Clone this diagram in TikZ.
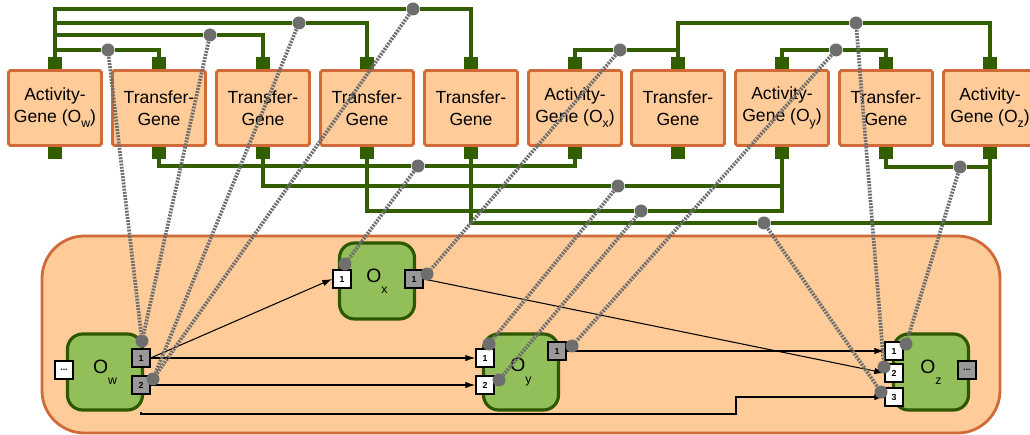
\documentclass[tikz,border=0pt]{standalone}
\usepackage{fontspec}
\setmainfont{Liberation Sans}
\usetikzlibrary{arrows.meta}
\definecolor{genefill}{RGB}{255,204,153}
\definecolor{geneline}{RGB}{208,106,56}
\definecolor{wiregreen}{RGB}{51,94,0}
\definecolor{opfill}{RGB}{147,191,90}
\definecolor{opline}{RGB}{45,88,0}
\definecolor{linkgray}{RGB}{110,110,110}
\definecolor{portgray}{RGB}{153,153,153}
\newcommand{\lowsub}[1]{\raisebox{-0.6ex}{\fontsize{7}{7}\selectfont #1}}
\newcommand{\opname}[1]{\fontsize{11}{11}\selectfont O\raisebox{-1.1ex}{\fontsize{7}{7}\selectfont #1}}
\begin{document}
\begin{tikzpicture}[x=0.02cm, y=-0.02cm,
	gene/.style={draw=geneline, fill=genefill, line width=1.6pt, rounded corners=1pt, minimum width=1.86cm, minimum height=1.5cm, align=center, inner sep=0pt, font=\fontsize{10}{12.3}\selectfont},
	pin/.style={fill=wiregreen, minimum width=0.28cm, minimum height=0.24cm, inner sep=0pt},
	wire/.style={draw=wiregreen, line width=1.9pt},
	cell/.style={draw=geneline, fill=genefill, line width=1.6pt, rounded corners=0.85cm},
	op/.style={draw=opline, fill=opfill, line width=1.8pt, rounded corners=0.3cm, minimum width=1.5cm, minimum height=1.52cm, inner sep=0pt},
	port/.style={draw=black, fill=white, line width=0.8pt, minimum size=0.36cm, inner sep=0pt, font=\fontsize{5}{5}\selectfont\bfseries},
	outport/.style={port, fill=portgray},
	sig/.style={-{Latex[length=0.2cm,width=0.13cm]}, line width=0.6pt},
	link/.style={draw=linkgray, line width=2.1pt, dash pattern=on 1.1pt off 0.7pt},
	dot/.style={circle, fill=linkgray, minimum size=0.26cm, inner sep=0pt}]
	
	\useasboundingbox (0,0) rectangle (1030,435);
	
	% genes of the row
	\node[gene] (g1) at (55,108) {Activity-\\Gene (O\lowsub{w})};
	\node[gene] (g2) at (159,108) {Transfer-\\Gene};
	\node[gene] (g3) at (263,108) {Transfer-\\Gene};
	\node[gene] (g4) at (367,108) {Transfer-\\Gene};
	\node[gene] (g5) at (471,108) {Transfer-\\Gene};
	\node[gene] (g6) at (575,108) {Activity-\\Gene (O\lowsub{x})};
	\node[gene] (g7) at (678,108) {Transfer-\\Gene};
	\node[gene] (g8) at (782,108) {Activity-\\Gene (O\lowsub{y})};
	\node[gene] (g9) at (886,108) {Transfer-\\Gene};
	\node[gene] (g10) at (990,108) {Activity-\\Gene (O\lowsub{z})};
	\foreach \i in {1,...,10} {
		\node[pin, anchor=south] (t\i) at (g\i.north) {};
		\node[pin, anchor=north] (b\i) at (g\i.south) {};
	}
	
	% hooks on the wires
	\node[dot] (hA) at (413,9) {};
	\node[dot] (hB) at (299,23) {};
	\node[dot] (hC) at (210,35) {};
	\node[dot] (hD) at (108,50) {};
	\node[dot] (hE) at (620,50) {};
	\node[dot] (hF) at (856,23) {};
	\node[dot] (hG) at (836,50) {};
	\node[dot] (hH) at (418,166) {};
	\node[dot] (hI) at (618,186) {};
	\node[dot] (hJ) at (641,211) {};
	\node[dot] (hK) at (764,223) {};
	\node[dot] (hL) at (960,167) {};
	
	\draw[wire] (t1.center) |- (hA) -| (t5.center);
	\draw[wire] (t1.center) |- (hB) -| (t4.center);
	\draw[wire] (t1.center) |- (hC) -| (t3.center);
	\draw[wire] (t1.center) |- (hD) -| (t2.center);
	\draw[wire] (t6.center) |- (hE) -| (t7.center);
	\draw[wire] (t7.center) |- (hF) -| (t10.center);
	\draw[wire] (t8.center) |- (hG) -| (t9.center);
	\draw[wire] (b2.center) |- (hH) -| (b6.center);
	\draw[wire] (b3.center) |- (hI) -| (b8.center);
	\draw[wire] (b4.center) |- (hJ) -| (b8.center);
	\draw[wire] (b5.center) |- (hK) -| (b10.center);
	\draw[wire] (b9.center) |- (hL) -| (b10.center);
	
	% the organism
	\draw[cell] (42,236) rectangle (1000,433);
	\node[op] (ow) at (105,372) {\opname{w}};
	\node[op] (ox) at (377,281) {\opname{x}};
	\node[op] (oy) at (521,372) {\opname{y}};
	\node[op] (oz) at (931,372) {\opname{z}};
	
	\node[port] (pwd) at (64,370) {...};
	\node[outport] (pw1) at (141,358) {1};
	\node[outport] (pw2) at (141,385) {2};
	\node[port] (px1) at (342,279) {1};
	\node[outport] (pxo) at (414,279) {1};
	\node[port] (py1) at (485,358) {1};
	\node[port] (py2) at (485,385) {2};
	\node[outport] (pyo) at (557,351) {1};
	\node[port] (pz1) at (894,351) {1};
	\node[port] (pz2) at (894,373) {2};
	\node[port] (pz3) at (894,397) {3};
	\node[outport] (pzd) at (967,370) {...};
	
	\coordinate (bend) at (736,414);
	\draw[sig] (pw1.east) -- (px1.west);
	\draw[sig] (pw1.east) -- (py1.west);
	\draw[sig] (pw2.east) -- (py2.west);
	\draw[sig] (pxo.east) -- (pz2.west);
	\draw[sig] (pyo.east) -- (pz1.west);
	\draw[sig] (ow.south -| pw1) |- (bend) |- (pz3.west);
	
	% hooks on the ports
	\node[dot] (qw1) at (142,341) {};
	\node[dot] (qw2) at (153,379) {};
	\node[dot] (qx1) at (345,264) {};
	\node[dot] (qxo) at (427,274) {};
	\node[dot] (qy1) at (489,344) {};
	\node[dot] (qy2) at (499,380) {};
	\node[dot] (qyo) at (572,346) {};
	\node[dot] (qz1) at (906,344) {};
	\node[dot] (qz2) at (884,367) {};
	\node[dot] (qz3) at (881,392) {};
	
	\draw[link] (hD) -- (qw1);
	\draw[link] (hC) -- (qw1);
	\draw[link] (hB) -- (qw2);
	\draw[link] (hA) -- (qw2);
	\draw[link] (hH) -- (qx1);
	\draw[link] (hE) -- (qxo);
	\draw[link] (hI) -- (qy1);
	\draw[link] (hJ) -- (qy2);
	\draw[link] (hG) -- (qyo);
	\draw[link] (hL) -- (qz1);
	\draw[link] (hF) -- (qz2);
	\draw[link] (hK) -- (qz3);
\end{tikzpicture}
\end{document}
